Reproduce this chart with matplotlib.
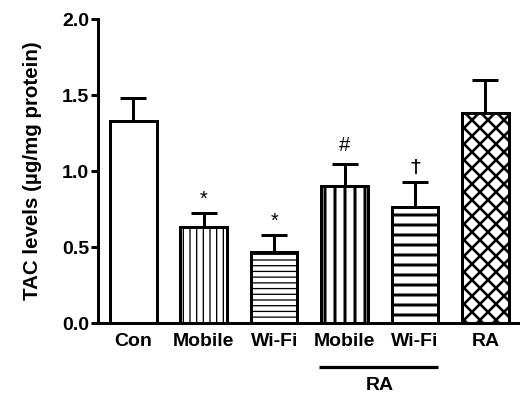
import matplotlib
matplotlib.use("Agg")
import matplotlib.pyplot as plt
import matplotlib.transforms as mtransforms

DPI = 240
W, H = 520, 396


def px(v):
    return v * 72.0 / DPI


categories = ["Con", "Mobile", "Wi-Fi", "Mobile", "Wi-Fi", "RA"]
values = [1.33, 0.63, 0.47, 0.905, 0.763, 1.382]
errors = [0.148, 0.098, 0.11, 0.143, 0.165, 0.214]
marks = ["", "*", "*", "#", "\u2020", ""]
hatches = ["", "||||||", "-------", "||||", "----", "xxxxx"]
hatch_lw = [1, 1.3, 1.3, 3.0, 3.0, 2.6]
yticks = [0.0, 0.5, 1.0, 1.5, 2.0]
group_label = "RA"
ylabel = "TAC levels (\u00b5g/mg protein)"

plt.rcParams["font.family"] = ["Liberation Sans", "DejaVu Sans"]
plt.rcParams["hatch.color"] = "black"

fig = plt.figure(figsize=(W / DPI, H / DPI), dpi=DPI)
left_px, bottom_px, top_px = 98.3, 323.3, 19.0
ax = fig.add_axes([left_px / W, 1 - bottom_px / H, 1 - left_px / W, (bottom_px - top_px) / H])

x = list(range(len(categories)))
bars = ax.bar(x, values, width=0.66, color="white", edgecolor="black",
              linewidth=px(3), zorder=2)
for b, h, hl in zip(bars, hatches, hatch_lw):
    b.set_hatch(h)
    if hasattr(b, "set_hatch_linewidth"):
        b.set_hatch_linewidth(px(hl))

ax.errorbar(x, values, yerr=[[0] * len(values), errors], fmt="none",
            ecolor="black", elinewidth=px(3), capsize=px(13), capthick=px(3),
            zorder=3)

offsets = {"*": 4, "#": 9, "\u2020": 5}
for xi, v, e, m in zip(x, values, errors, marks):
    if m:
        ax.annotate(m, (xi, v + e), xytext=(0, px(offsets[m])),
                    textcoords="offset points", ha="center", va="bottom",
                    fontsize=px(20),
                    fontfamily=["DejaVu Sans"] if m == "\u2020" else ["Liberation Sans"])

ax.set_xlim(-0.497, 5.49)
ax.set_ylim(0, 2.0)
ax.set_yticks(yticks)
ax.set_yticklabels([f"{t:.1f}" for t in yticks], fontsize=px(19.5), fontweight="bold")
ax.set_xticks(x)
ax.set_xticklabels(categories, fontsize=px(19.5), fontweight="bold")
ax.tick_params(axis="y", direction="out", length=px(7), width=px(3), pad=px(2))
ax.tick_params(axis="x", length=0, pad=px(10))
for s in ["top", "right"]:
    ax.spines[s].set_visible(False)
for s in ["left", "bottom"]:
    ax.spines[s].set_linewidth(px(3))

ax.set_ylabel(ylabel, fontsize=px(20.5), fontweight="bold", labelpad=px(20))

# group line and label under RA Mobile / RA Wi-Fi
trans = mtransforms.blended_transform_factory(ax.transData, ax.transAxes)
ax_h = bottom_px - top_px
y_line = -(366.7 - bottom_px) / ax_h
ax.plot([3 - 0.36, 4 + 0.32], [y_line, y_line], color="black", linewidth=px(3.2),
        transform=trans, clip_on=False, solid_capstyle="butt")
y_text = -(385.0 - bottom_px) / ax_h
ax.text(3.5, y_text, group_label, transform=trans, ha="center", va="center",
        fontsize=px(19.5), fontweight="bold")

fig.savefig("out.png", dpi=DPI)
